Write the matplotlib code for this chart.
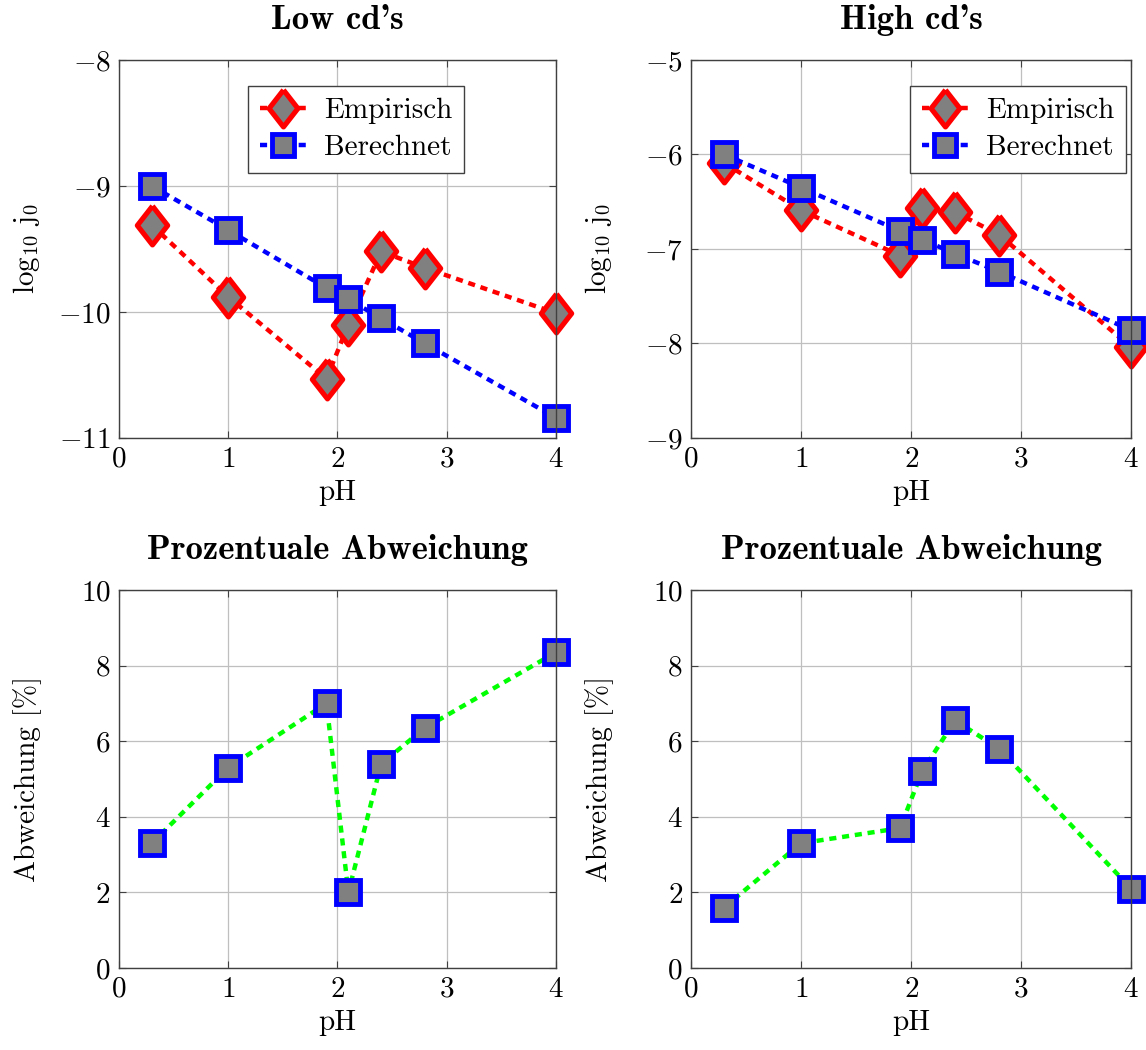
import matplotlib
matplotlib.use('Agg')
from matplotlib import pyplot as plt

PH = [0.3, 1.0, 1.9, 2.1, 2.4, 2.8, 4.0]

LOW_EMP = [-9.31, -9.88, -10.53, -10.10, -9.52, -9.65, -10.01]
LOW_CALC = [-9.00, -9.35, -9.81, -9.90, -10.05, -10.25, -10.84]
HIGH_EMP = [-6.09, -6.59, -7.07, -6.57, -6.61, -6.85, -8.04]
HIGH_CALC = [-6.00, -6.35, -6.81, -6.90, -7.05, -7.24, -7.86]

LOW_DEV = [3.3, 5.3, 7.0, 2.0, 5.4, 6.35, 8.35]
HIGH_DEV = [1.6, 3.3, 3.7, 5.2, 6.55, 5.8, 2.1]

GRAY = '#808080'
DIAMOND = [(0, 1), (0.78, 0), (0, -1), (-0.78, 0), (0, 1)]
DASH = (0, (1.6, 1.3))

plt.rcParams['font.family'] = 'cmr10'
plt.rcParams['mathtext.fontset'] = 'cm'
plt.rcParams['axes.formatter.use_mathtext'] = True
plt.rcParams['font.size'] = 21


def style_axes(ax, ylim, yticks):
    ax.set_xlim(0, 4)
    ax.set_xticks([0, 1, 2, 3, 4])
    ax.set_ylim(*ylim)
    ax.set_yticks(yticks)
    ax.grid(True, color='#bfbfbf', linewidth=0.9)
    ax.set_axisbelow(True)
    ax.tick_params(direction='in', top=True, right=True, length=5,
                   width=0.8, color='#404040', labelsize=21, pad=6)
    for sp in ax.spines.values():
        sp.set_color('#404040')
        sp.set_linewidth(1.0)
    ax.set_xlabel('pH', labelpad=5)
    ax.yaxis.set_label_coords(-0.175, 0.5)


def plot_j0(ax, emp, calc, title, ylim, yticks, anchor):
    ax.plot(PH, emp, color='red', linestyle=DASH, linewidth=3.2,
            marker=DIAMOND, markersize=28, markerfacecolor=GRAY,
            markeredgecolor='red', markeredgewidth=3.7, label='Empirisch',
            clip_on=False)
    ax.plot(PH, calc, color='blue', linestyle=DASH, linewidth=3.2,
            marker='s', markersize=17, markerfacecolor=GRAY,
            markeredgecolor='blue', markeredgewidth=3.5, label='Berechnet',
            clip_on=False)
    style_axes(ax, ylim, yticks)
    ax.set_ylabel(r'$\mathrm{log}_{10}\ \mathrm{j}_0$')
    ax.set_title(title, fontfamily='cmb10', fontsize=25, pad=22)
    ax.legend(loc='upper right', bbox_to_anchor=anchor, fancybox=False,
              edgecolor='#404040', framealpha=1, handlelength=1.6,
              handletextpad=0.6, borderpad=0.4, labelspacing=0.35,
              borderaxespad=0, markerscale=0.95, fontsize=21)


def plot_dev(ax, dev):
    ax.plot(PH, dev, color='#00ff00', linestyle=DASH, linewidth=3.2,
            marker='s', markersize=17, markerfacecolor=GRAY,
            markeredgecolor='blue', markeredgewidth=3.5, clip_on=False)
    style_axes(ax, (0, 10), [0, 2, 4, 6, 8, 10])
    ax.set_ylabel('Abweichung [%]')
    ax.set_title('Prozentuale Abweichung', fontfamily='cmb10', fontsize=25,
                 pad=22)


def main():
    fig = plt.figure(figsize=(11.46, 10.5), dpi=100)
    ax1 = fig.add_axes([0.1038, 0.5829, 0.3813, 0.36])
    ax2 = fig.add_axes([0.603, 0.5829, 0.384, 0.36])
    ax3 = fig.add_axes([0.1038, 0.0781, 0.3813, 0.36])
    ax4 = fig.add_axes([0.603, 0.0781, 0.384, 0.36])

    plot_j0(ax1, LOW_EMP, LOW_CALC, "Low cd's", (-11, -8), [-11, -10, -9, -8],
            (0.79, 0.93))
    plot_j0(ax2, HIGH_EMP, HIGH_CALC, "High cd's", (-9, -5),
            [-9, -8, -7, -6, -5], (0.988, 0.93))
    plot_dev(ax3, LOW_DEV)
    plot_dev(ax4, HIGH_DEV)

    fig.savefig('out.png', dpi=100)


if __name__ == '__main__':
    main()
